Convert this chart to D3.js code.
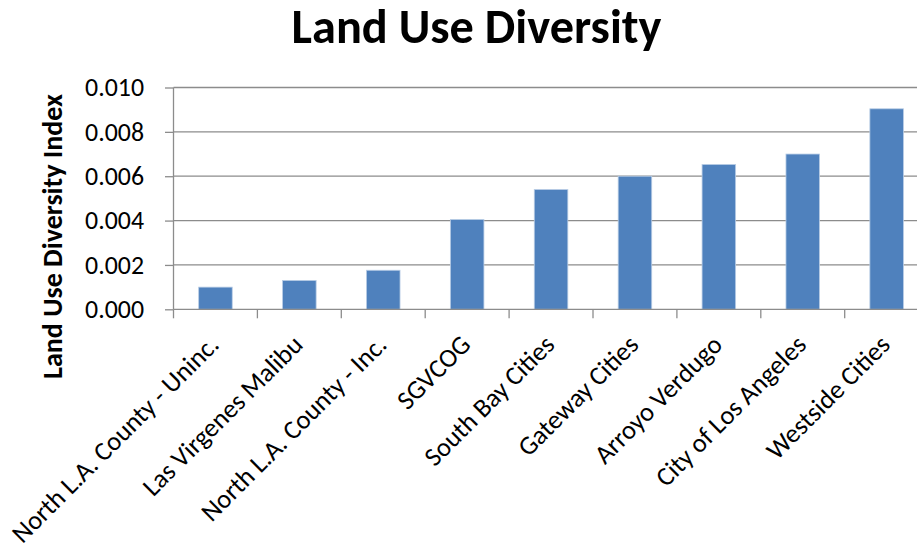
<!DOCTYPE html>
<html><head><meta charset="utf-8">
<script src="https://cdn.jsdelivr.net/npm/d3@7"></script>
<style>html,body{margin:0;padding:0;background:#fff;overflow:hidden}</style>
</head><body>
<svg id="chart" width="917" height="545"></svg>
<script>
const categories = ["North L.A. County - Uninc.", "Las Virgenes Malibu", "North L.A. County - Inc.", "SGVCOG", "South Bay Cities", "Gateway Cities", "Arroyo Verdugo", "City of Los Angeles", "Westside Cities"];
const values = [0.0010, 0.0013, 0.00176, 0.00405, 0.0054, 0.0060, 0.00653, 0.0070, 0.00904];
const yTicks = [0, 0.002, 0.004, 0.006, 0.008, 0.010];
const titleText = "Land Use Diversity";
const yTitleText = "Land Use Diversity Index";

const FONT = "Carlito, Calibri, Lato, 'Open Sans', sans-serif";
const svg = d3.select("#chart");
const plotLeft = 173.5, plotRight = 928.6, plotTop = 87.5, plotBottom = 309.3;

function fitSize(text, target, weight) {
  const t = svg.append("text").attr("font-family", FONT).attr("font-size", 100)
    .attr("font-weight", weight || "normal").text(text);
  const w = t.node().getComputedTextLength();
  t.remove();
  return 100 * target / w;
}

const x = d3.scaleBand().domain(categories).range([plotLeft, plotRight]).paddingInner(0.6).paddingOuter(0.3);
const y = d3.scaleLinear().domain([0, 0.010]).range([plotBottom, plotTop]);

const tickSize = fitSize("0.010", 59);
const labelSize = fitSize(categories[0], 280);
const titleSize = fitSize(titleText, 370, "bold");
const yTitleSize = fitSize(yTitleText, 285, "bold");

// gridlines
svg.append("g").selectAll("line").data(yTicks.filter(d => d > 0)).join("line")
  .attr("x1", plotLeft).attr("x2", 917).attr("y1", d => y(d)).attr("y2", d => y(d))
  .attr("stroke", "#8c8c8c").attr("stroke-width", 1.3);

// bars
svg.append("g").selectAll("rect").data(values).join("rect")
  .attr("x", (d, i) => x(categories[i])).attr("width", x.bandwidth())
  .attr("y", d => y(d)).attr("height", d => plotBottom - y(d))
  .attr("fill", "#4f81bd").attr("stroke", "#b9cde5").attr("stroke-width", 0.8);

// y axis
const yAxis = d3.axisLeft(y).tickValues(yTicks).tickFormat(d3.format(".3f")).tickSize(8.5).tickPadding(21);
const gy = svg.append("g").attr("transform", `translate(${plotLeft},0)`).call(yAxis);
gy.select(".domain").attr("stroke", "#8c8c8c").attr("stroke-width", 1.3).attr("d", `M0,${plotTop}V${plotBottom}`);
gy.selectAll(".tick line").attr("stroke", "#8c8c8c").attr("stroke-width", 1.3);
gy.selectAll(".tick text").attr("font-family", FONT).attr("font-size", tickSize).attr("fill", "#000");

// x axis (ticks at band boundaries)
svg.append("line").attr("x1", plotLeft).attr("x2", 917).attr("y1", plotBottom).attr("y2", plotBottom)
  .attr("stroke", "#8c8c8c").attr("stroke-width", 1.3);
const step = x.step();
svg.append("g").selectAll("line").data(categories).join("line")
  .attr("x1", d => x(d) - x.paddingInner() * step / 2)
  .attr("x2", d => x(d) - x.paddingInner() * step / 2)
  .attr("y1", plotBottom).attr("y2", plotBottom + 9)
  .attr("stroke", "#8c8c8c").attr("stroke-width", 1.3);

svg.append("g").selectAll("text").data(categories).join("text")
  .attr("transform", d => `translate(${x(d) + x.bandwidth() / 2 + 5},${plotBottom + 37}) rotate(-45)`)
  .attr("text-anchor", "end").attr("font-family", FONT).attr("font-size", labelSize).attr("fill", "#000")
  .text(d => d);

// titles
svg.append("text").attr("x", 476.5).attr("y", 43).attr("text-anchor", "middle")
  .attr("font-family", FONT).attr("font-weight", "bold").attr("font-size", titleSize).attr("fill", "#000")
  .text(titleText);
svg.append("text").attr("transform", "translate(61.7,236.5) rotate(-90)").attr("text-anchor", "middle")
  .attr("font-family", FONT).attr("font-weight", "bold").attr("font-size", yTitleSize).attr("fill", "#000")
  .text(yTitleText);
</script>
</body></html>
